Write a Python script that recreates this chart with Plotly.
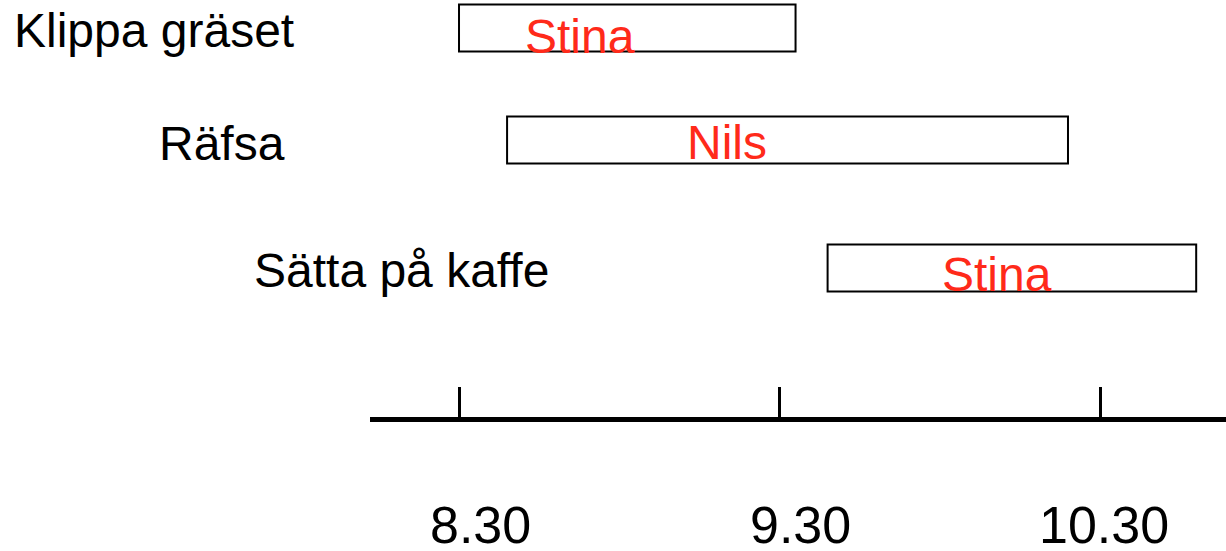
import plotly.graph_objects as go

# ---- data ----
tasks = ["Klippa gräset", "Räfsa", "Sätta på kaffe"]
people = ["Stina", "Nils", "Stina"]
start_times = ["8:30", "8:39", "9:39"]
end_times = ["9:33", "10:24", "10:48"]
tick_times = ["8:30", "9:30", "10:30"]
tick_labels = ["8.30", "9.30", "10.30"]


def to_hours(t):
    h, m = t.split(":")
    return int(h) + int(m) / 60.0


starts = [to_hours(t) for t in start_times]
ends = [to_hours(t) for t in end_times]
durations = [e - s for s, e in zip(starts, ends)]
tickvals = [to_hours(t) for t in tick_times]

# ---- style / layout constants ----
FONT = "Arial, Liberation Sans, sans-serif"
BAR_W = 0.392
row_shift = [0, -0.067, 0]
bar_offsets = [-BAR_W / 2 + s for s in row_shift]
label_x_paper = [-0.4182, -0.2488, -0.1378]
label_yshift = [-3, 4, -3]
name_xshift = [-47, -61, -15]
name_yshift = [-9, 5, -7]
tick_label_xshift = [21, 21, 4]

fig = go.Figure()
fig.add_trace(go.Bar(
    orientation="h",
    y=tasks,
    x=durations,
    base=starts,
    width=BAR_W,
    offset=bar_offsets,
    marker=dict(color="white", line=dict(color="black", width=2)),
    hoverinfo="skip",
    showlegend=False,
))

annotations = []
for i, task in enumerate(tasks):
    annotations.append(dict(
        text=task, xref="paper", yref="y", x=label_x_paper[i], y=task,
        xanchor="left", yanchor="middle", showarrow=False,
        yshift=label_yshift[i],
        font=dict(family=FONT, size=48, color="black"),
    ))
    annotations.append(dict(
        text=people[i], xref="x", yref="y", x=(starts[i] + ends[i]) / 2, y=task,
        xanchor="center", yanchor="middle", showarrow=False,
        xshift=name_xshift[i], yshift=name_yshift[i],
        font=dict(family=FONT, size=48, color="#ff2a1a"),
    ))

# time labels under the axis
for i, (tv, tl) in enumerate(zip(tickvals, tick_labels)):
    annotations.append(dict(
        text=tl, xref="x", yref="paper", x=tv, y=0,
        xanchor="center", yanchor="middle", showarrow=False,
        xshift=tick_label_xshift[i], yshift=-108,
        font=dict(family=FONT, size=52, color="black"),
    ))

fig.update_layout(
    width=1226, height=551,
    margin=dict(l=370, r=0, t=0, b=134, autoexpand=False),
    paper_bgcolor="white", plot_bgcolor="white",
    annotations=annotations,
    xaxis=dict(
        range=[8.2223, 10.893],
        showgrid=False, zeroline=False,
        showline=True, linecolor="black", linewidth=5,
        ticks="inside", ticklen=30, tickwidth=3, tickcolor="black",
        tickvals=tickvals, showticklabels=False,
        automargin=False,
        fixedrange=True,
    ),
    yaxis=dict(
        type="category", categoryorder="array", categoryarray=tasks,
        range=[3.242, -0.233], visible=False, fixedrange=True,
        automargin=False,
    ),
)

fig.write_html(
    "out.html",
    config={"displayModeBar": False},
    post_script="document.body.style.margin='0px';document.body.style.overflow='hidden';",
)
